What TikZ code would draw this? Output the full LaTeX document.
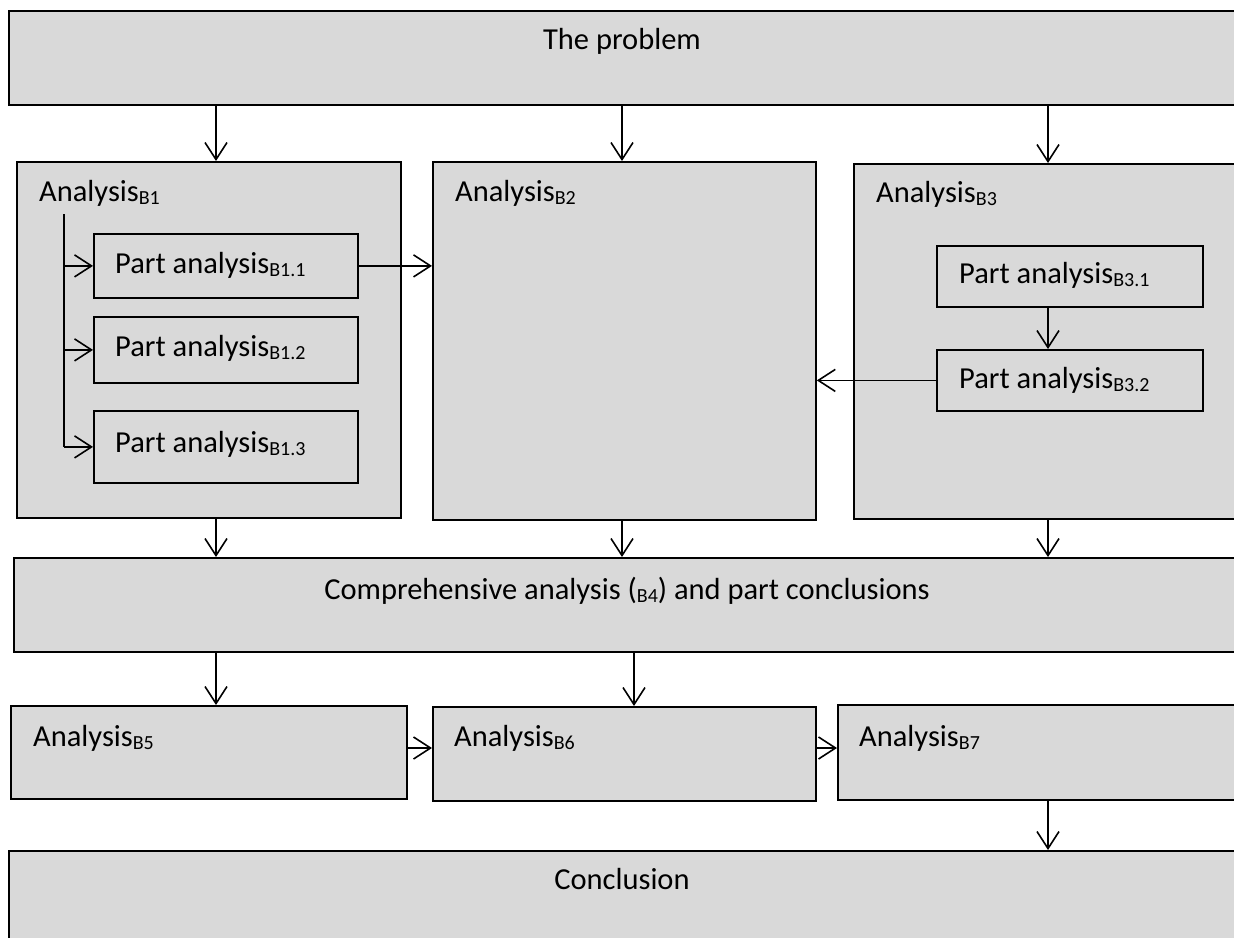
\documentclass[tikz,border=0pt]{standalone}
\usepackage{fontspec}
\setmainfont{Carlito}
\usetikzlibrary{arrows.meta}
\definecolor{boxgray}{HTML}{D9D9D9}
% lowered, smaller index such as B1 or B3.2
\newcommand\bsub[1]{\raisebox{-3pt}{\fontsize{20}{20}\selectfont #1}}
\tikzset{
  box/.style={draw=black, fill=boxgray, line width=1.8pt, rectangle, inner sep=0pt, anchor=north west},
  lbl/.style={font=\fontsize{30.5}{36}\selectfont, inner sep=0pt, text=black},
  arr/.style={-{Straight Barb[length=17pt,width=22pt]}, line width=1.6pt},
  spine/.style={line width=1.6pt},
}
\begin{document}
\begin{tikzpicture}[x=1pt,y=-1pt]
\useasboundingbox (0,0) rectangle (1234,937);
\clip (0,0) rectangle (1234,937);
\fill[white] (0,0) rectangle (1234,937);

% column positions of the vertical connectors
\coordinate (xa) at (216,0);
\coordinate (xb) at (622,0);
\coordinate (xc) at (1048,0);
\coordinate (xd) at (634,0);
\coordinate (ya) at (0,748);

% top
\node[box, minimum width=1240pt, minimum height=94pt] (prob) at (8,10) {};
\node[lbl, anchor=base] (probt) at (622,49) {The problem};

% analysis B1 with its three parts
\node[box, minimum width=384pt, minimum height=356pt] (b1) at (16,161) {};
\node[lbl, anchor=base west] (b1t) at (39,201) {Analysis\bsub{B1}};
\node[box, minimum width=264pt, minimum height=64pt] (b11) at (93,233) {};
\node[lbl, anchor=base west] (b11t) at (115,273) {Part analysis\bsub{B1.1}};
\node[box, minimum width=264pt, minimum height=66pt] (b12) at (93,316) {};
\node[lbl, anchor=base west] (b12t) at (115,356) {Part analysis\bsub{B1.2}};
\node[box, minimum width=264pt, minimum height=72pt] (b13) at (93,410) {};
\node[lbl, anchor=base west] (b13t) at (115,452) {Part analysis\bsub{B1.3}};

% analysis B2
\node[box, minimum width=383pt, minimum height=358pt] (b2) at (432,161) {};
\node[lbl, anchor=base west] (b2t) at (455,201) {Analysis\bsub{B2}};

% analysis B3 with its two parts
\node[box, minimum width=400pt, minimum height=355pt] (b3) at (853,163) {};
\node[lbl, anchor=base west] (b3t) at (876,202) {Analysis\bsub{B3}};
\node[box, minimum width=266pt, minimum height=61pt] (b31) at (936,245) {};
\node[lbl, anchor=base west] (b31t) at (959,283) {Part analysis\bsub{B3.1}};
\node[box, minimum width=266pt, minimum height=61pt] (b32) at (936,349) {};
\node[lbl, anchor=base west] (b32t) at (959,388) {Part analysis\bsub{B3.2}};

% comprehensive analysis
\node[box, minimum width=1240pt, minimum height=94pt] (comp) at (13,557) {};
\node[lbl, anchor=base] (compt) at (627,599) {Comprehensive analysis (\bsub{B4}) and part conclusions};

% analyses B5, B6, B7
\node[box, minimum width=396pt, minimum height=93pt] (b5) at (10,705) {};
\node[lbl, anchor=base west] (b5t) at (33,746) {Analysis\bsub{B5}};
\node[box, minimum width=383pt, minimum height=94pt] (b6) at (432,706) {};
\node[lbl, anchor=base west] (b6t) at (454,746) {Analysis\bsub{B6}};
\node[box, minimum width=410pt, minimum height=95pt] (b7) at (837,704) {};
\node[lbl, anchor=base west] (b7t) at (859,746) {Analysis\bsub{B7}};

% conclusion
\node[box, minimum width=1240pt, minimum height=120pt] (concl) at (8,850) {};
\node[lbl, anchor=base] (conclt) at (622,889) {Conclusion};

% connectors: problem to the three analyses
\draw[arr] (prob.south -| xa) -- (b1.north -| xa);
\draw[arr] (prob.south -| xb) -- (b2.north -| xb);
\draw[arr] (prob.south -| xc) -- (b3.north -| xc);

% branching spine inside B1
\coordinate (sp) at (64,214);
\draw[spine] (sp) -- (sp |- b13.west);
\draw[arr] (sp |- b11.west) -- (b11.west);
\draw[arr] (sp |- b12.west) -- (b12.west);
\draw[arr] (sp |- b13.west) -- (b13.west);

% cross links into B2
\draw[arr] (b11.east) -- (b11.east -| b2.west);
\draw[arr] (b31.south -| xc) -- (b32.north -| xc);
\draw[arr] (b32.west) -- (b32.west -| b2.east);

% analyses to comprehensive analysis
\draw[arr] (b1.south -| xa) -- (comp.north -| xa);
\draw[arr] (b2.south -| xb) -- (comp.north -| xb);
\draw[arr] (b3.south -| xc) -- (comp.north -| xc);

% comprehensive analysis to B5 and B6
\draw[arr] (comp.south -| xa) -- (b5.north -| xa);
\draw[arr] (comp.south -| xd) -- (b6.north -| xd);

% chain B5, B6, B7 and on to the conclusion
\draw[arr] (b5.east |- ya) -- (b6.west |- ya);
\draw[arr] (b6.east |- ya) -- (b7.west |- ya);
\draw[arr] (b7.south -| xc) -- (concl.north -| xc);
\end{tikzpicture}
\end{document}
